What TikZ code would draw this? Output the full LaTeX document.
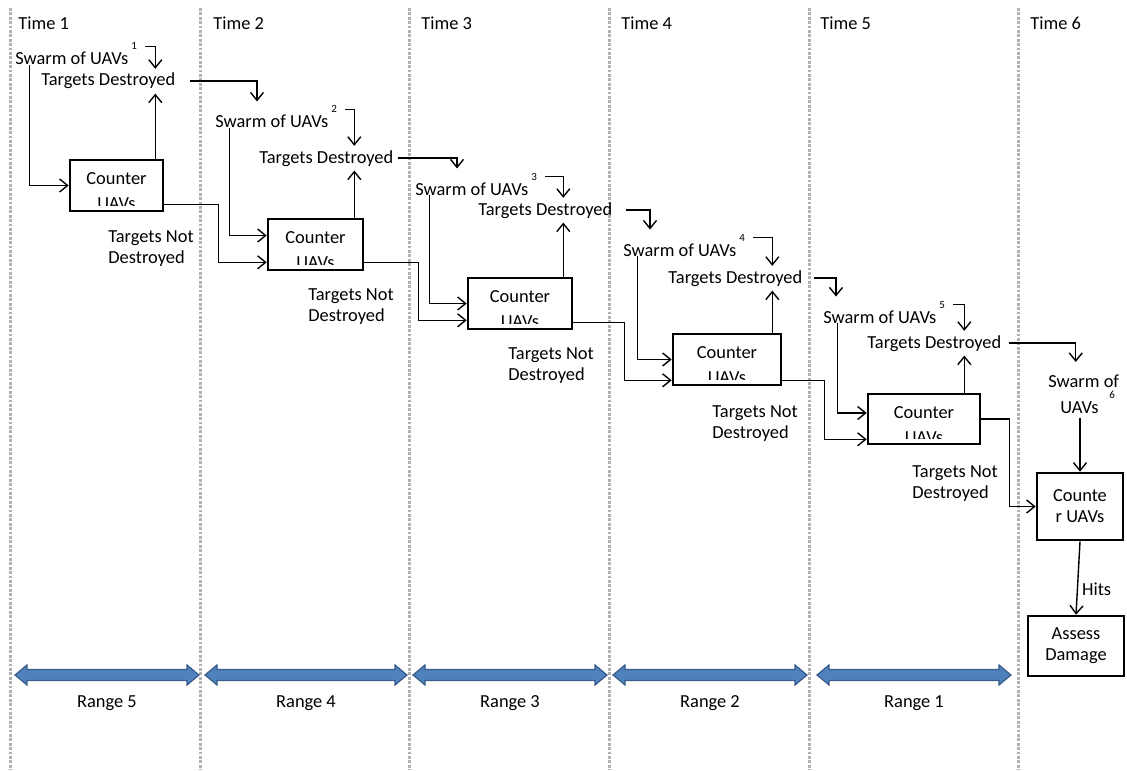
\documentclass[tikz,border=0pt]{standalone}
\usepackage{fontspec}
\setmainfont{Carlito}
\usetikzlibrary{arrows.meta,calc}
\definecolor{rangefill}{RGB}{79,129,189}
\definecolor{rangeline}{RGB}{56,93,138}
\tikzset{
	>={Straight Barb[length=4pt,width=6.5pt]}
}
\newcommand{\upidx}[1]{\kern1.5pt\raisebox{7.5pt}{\fontsize{5.5}{6}\selectfont #1}}

\begin{document}
\begin{tikzpicture}[
x = 0.5pt, y = -0.5pt,
every node/.style = {
	font = \fontsize{9.2}{10.5}\selectfont
},
txt/.style = {
	inner sep = 2pt
},
cbox/.style = {
	draw,
	line width = 1.3pt,
	inner sep = 0pt,
	align = center
},
conn/.style = {
	->,
	line width = 0.7pt
},
gridline/.style = {
	draw = black!30,
	line width = 1.5pt,
	dash pattern = on 1.4pt off 0.8pt
},
rangearrow/.style = {
	fill = rangefill,
	draw = rangeline,
	line width = 0.6pt
}
]
\useasboundingbox (0,0) rectangle (1127,770);

\foreach \x/\t [count=\i] in {10/18, 200/213, 409/421, 609/621, 809/820, 1018/1030} {
	\draw[gridline] (\x,8) -- (\x,770);
	\node[txt, anchor=base west] (time\i) at (\t-4,30) {Time \i};
}

\node[txt, anchor=base west] (swarm1) at (11,65) 	{Swarm of UAVs\upidx{1}};
\node[txt, anchor=base west] (td1) 	at (37,86) 		{Targets Destroyed};
\node[txt, anchor=base west] (swarm2) at (211,128) 	{Swarm of UAVs\upidx{2}};
\node[txt, anchor=base west] (td2) 	at (255,163) 	{Targets Destroyed};
\node[txt, anchor=base west] (swarm3) at (411,195) 	{Swarm of UAVs\upidx{3}};
\node[txt, anchor=base west] (td3) 	at (474,215) 	{Targets Destroyed};
\node[txt, anchor=base west] (swarm4) at (619,256) 	{Swarm of UAVs\upidx{4}};
\node[txt, anchor=base west] (td4) 	at (664,283) 	{Targets Destroyed};
\node[txt, anchor=base west] (swarm5) at (819,323) 	{Swarm of UAVs\upidx{5}};
\node[txt, anchor=base west] (td5) 	at (863,348) 	{Targets Destroyed};
\node[txt, anchor=base west] (swarm6a) at (1044,387) {Swarm of};
\node[txt, anchor=base west] (swarm6) at (1056,413) {UAVs\hspace{4pt}\upidx{6}};

\node[cbox, minimum width=46.5pt, minimum height=25.5pt] (box1) at (116.5,185.5) {};
\node[cbox, minimum width=47.5pt, minimum height=25.5pt] (box2) at (315.5,244.5) {};
\node[cbox, minimum width=52pt, minimum height=25.5pt] 	(box3) at (520,303.5) {};
\node[cbox, minimum width=54pt, minimum height=25.5pt] 	(box4) at (727,359.5) {};
\node[cbox, minimum width=56pt, minimum height=25pt] 	(box5) at (924,419) {};
\node[cbox, minimum width=43pt, minimum height=33.5pt] 	(box6) at (1080,506.5) {Counte\\r UAVs};
\node[cbox, minimum width=48pt, minimum height=30pt] 	(assess) at (1076,646) {Assess\\Damage};

\foreach \i in {1,...,5} {
	\begin{scope}
	\clip ([yshift=3.2pt]box\i.south west) rectangle (box\i.north east);
	\node[txt, align=center, anchor=north] (cu\i) at ([yshift=-4.6pt]box\i.north) {Counter\\[2pt]UAVs};
	\end{scope}
}

\node[txt, align=left, anchor=north west] (tnd1) at (104,226) {Targets Not\\Destroyed};
\node[txt, align=left, anchor=north west] (tnd2) at (304,284) {Targets Not\\Destroyed};
\node[txt, align=left, anchor=north west] (tnd3) at (504,343) {Targets Not\\Destroyed};
\node[txt, align=left, anchor=north west] (tnd4) at (708,401) {Targets Not\\Destroyed};
\node[txt, align=left, anchor=north west] (tnd5) at (908,461) {Targets Not\\Destroyed};

\coordinate (up1) at ([xshift=-4.5pt]box1.north east);
\coordinate (up2) at ([xshift=-5pt]box2.north east);
\coordinate (up3) at ([xshift=-5pt]box3.north east);
\coordinate (up4) at ([xshift=-5pt]box4.north east);
\coordinate (up5) at ([xshift=-8.5pt]box5.north east);

\draw[conn] ([xshift=9.3pt]swarm1.base west) |- (box1.west);
\draw[conn] ([xshift=2pt,yshift=-4pt]swarm1.north east) -| (up1 |- td1.north);
\draw[conn] (up1) -- (up1 |- td1.south);
\draw[conn] ([xshift=5pt]td1.east) -| ([xshift=23pt]swarm2.north west);
\draw[conn] ([yshift=4pt]box1.south east) -- ++(54,0) |- ([yshift=4.5pt]box2.south west);

\draw[conn] ([xshift=9.3pt]swarm2.base west) |- ([yshift=4.5pt]box2.west);
\draw[conn] ([xshift=2pt,yshift=-4pt]swarm2.north east) -| (up2 |- td2.north);
\draw[conn] (up2) -- (up2 |- td2.south);
\draw[conn] (td2.east) -| ([xshift=23pt]swarm3.north west);
\draw[conn] ([yshift=4.5pt]box2.south east) -- ++(54,0) |- ([yshift=5pt]box3.south west);

\draw[conn] ([xshift=9.3pt]swarm3.base west) |- (box3.west);
\draw[conn] ([xshift=2pt,yshift=-4pt]swarm3.north east) -| (up3 |- td3.north);
\draw[conn] (up3) -- (up3 |- td3.south);
\draw[conn] ([xshift=4.5pt]td3.east) -| ([xshift=15.5pt]swarm4.north west);
\draw[conn] ([yshift=4pt]box3.south east) -- ++(51,0) |- ([yshift=3pt]box4.south west);

\draw[conn] ([xshift=9.3pt]swarm4.base west) |- (box4.west);
\draw[conn] ([xshift=2pt,yshift=-4pt]swarm4.north east) -| (up4 |- td4.north);
\draw[conn] (up4) -- (up4 |- td4.south);
\draw[conn] ([xshift=3.5pt]td4.east) -| ([xshift=8.5pt]swarm5.north west);
\draw[conn] ([yshift=3pt]box4.south east) -- ++(42,0) |- ([yshift=3pt]box5.south west);

\draw[conn] ([xshift=9.3pt]swarm5.base west) |- ([yshift=3pt]box5.west);
\draw[conn] ([xshift=2pt,yshift=-4pt]swarm5.north east) -| (up5 |- td5.north);
\draw[conn] (up5) -- (up5 |- td5.south);
\draw[conn] ([xshift=1.5pt]td5.east) -| ([xshift=-4pt,yshift=4pt]swarm6a.north);
\draw[conn] (box5.east) -- ++(28,0) |- (box6.west);

\draw[conn] (swarm6.south -| box6.north) -- (box6.north);
\draw[conn] (box6.south) -- node[txt, right, pos=0.65] (hits) {Hits} (assess.north);

\foreach \a/\b/\n in {15/199/5, 205/407/4, 413/607/3, 613/807/2, 817/1011/1} {
	\draw[rangearrow] (\a,675) -- (\a+12,665) -- (\a+12,669.5) -- (\b-12,669.5) -- (\b-12,665) -- (\b,675)
		-- (\b-12,685) -- (\b-12,680.5) -- (\a+12,680.5) -- (\a+12,685) -- cycle;
	\node[txt, anchor=base] (range\n) at ({(\a+\b)/2},707) {Range \n};
}
\end{tikzpicture}
\end{document}
